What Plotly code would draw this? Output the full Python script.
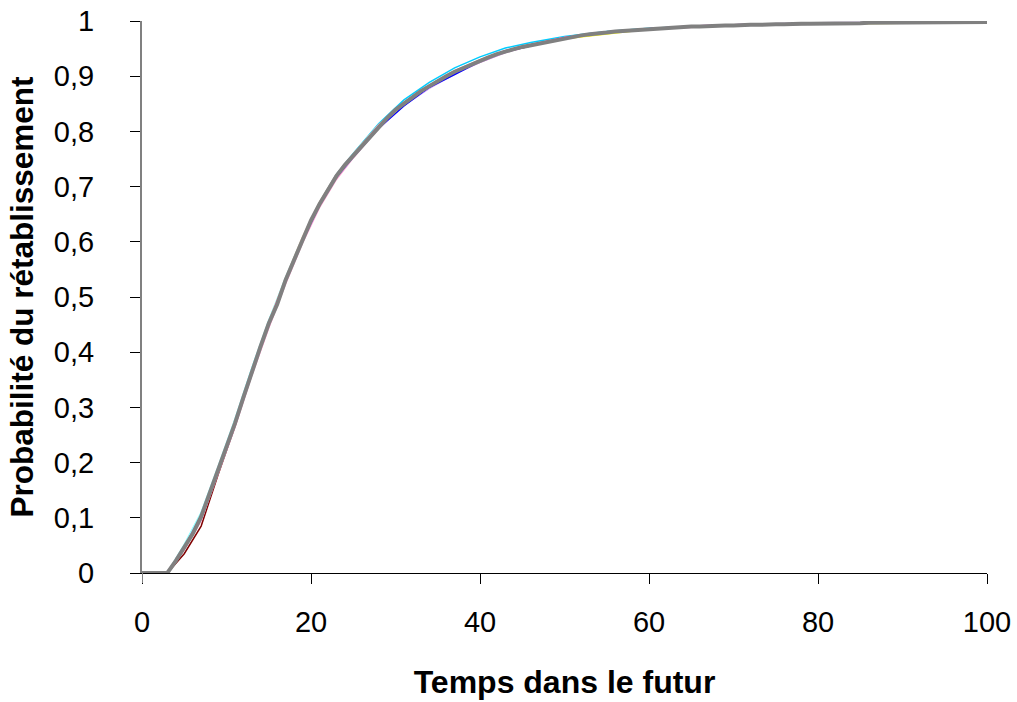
import plotly.graph_objects as go

# ---- data ----
x_main = list(range(0, 101))
gray_series = [
    0, 0, 0, 0, 0.022, 0.046, 0.071, 0.102, 0.143, 0.186,
    0.226, 0.271, 0.318, 0.366, 0.409, 0.452, 0.487, 0.531, 0.568, 0.604,
    0.639, 0.668, 0.694, 0.719, 0.739, 0.756, 0.774, 0.791, 0.809, 0.824,
    0.839, 0.851, 0.861, 0.873, 0.882, 0.892, 0.900, 0.908, 0.915, 0.922,
    0.928, 0.934, 0.940, 0.945, 0.949, 0.953, 0.956, 0.960, 0.963, 0.966,
    0.969, 0.971, 0.974, 0.976, 0.977, 0.979, 0.981, 0.982, 0.983, 0.985,
    0.986, 0.987, 0.988, 0.988, 0.989, 0.990, 0.990, 0.991, 0.991, 0.992,
    0.992, 0.993, 0.993, 0.993, 0.994, 0.994, 0.994, 0.995, 0.995, 0.995,
    0.995, 0.996, 0.996, 0.996, 0.996, 0.996, 0.997, 0.997, 0.997, 0.997,
    0.997, 0.997, 0.997, 0.998, 0.998, 0.998, 0.998, 0.998, 0.998, 0.998,
    0.998,
]

x_col = [0, 3, 5, 7, 9, 11, 13, 15, 17, 19, 21, 23, 25, 28, 31, 34, 37, 40,
         43, 46, 50, 55, 60, 65, 70, 80, 90, 100]

serie_maroon = [0, 0, 0.035, 0.085, 0.178, 0.266, 0.362, 0.450, 0.530, 0.603, 0.669, 0.721, 0.757, 0.808,
                0.851, 0.883, 0.907, 0.929, 0.946, 0.957, 0.970, 0.979, 0.986, 0.990, 0.992, 0.995, 0.997, 0.998]
serie_cyan = [0, 0, 0.050, 0.108, 0.190, 0.276, 0.370, 0.456, 0.534, 0.607, 0.671, 0.722, 0.760, 0.814,
              0.857, 0.889, 0.915, 0.935, 0.951, 0.961, 0.972, 0.981, 0.987, 0.990, 0.993, 0.995, 0.997, 0.998]
serie_lightcyan = [0, 0, 0.052, 0.110, 0.193, 0.279, 0.372, 0.458, 0.536, 0.608, 0.670, 0.720, 0.758, 0.810,
                   0.853, 0.884, 0.909, 0.929, 0.946, 0.957, 0.970, 0.980, 0.986, 0.990, 0.992, 0.995, 0.997, 0.998]
serie_pink = [0, 0, 0.042, 0.095, 0.180, 0.264, 0.358, 0.444, 0.524, 0.598, 0.662, 0.713, 0.752, 0.806,
              0.848, 0.879, 0.905, 0.925, 0.943, 0.955, 0.968, 0.978, 0.985, 0.989, 0.992, 0.995, 0.997, 0.998]
serie_peach = [0, 0, 0.046, 0.103, 0.188, 0.273, 0.368, 0.455, 0.535, 0.609, 0.672, 0.722, 0.759, 0.812,
               0.853, 0.884, 0.910, 0.930, 0.946, 0.957, 0.970, 0.980, 0.986, 0.990, 0.993, 0.996, 0.997, 0.998]
serie_lavender = [0, 0, 0.044, 0.099, 0.183, 0.268, 0.363, 0.449, 0.528, 0.601, 0.665, 0.716, 0.753, 0.805,
                  0.847, 0.878, 0.904, 0.925, 0.943, 0.955, 0.968, 0.979, 0.986, 0.990, 0.993, 0.997, 0.998, 0.999]
serie_blue = [0, 0, 0.045, 0.100, 0.184, 0.269, 0.364, 0.451, 0.530, 0.602, 0.666, 0.717, 0.754, 0.806,
              0.846, 0.880, 0.903, 0.927, 0.944, 0.955, 0.969, 0.979, 0.986, 0.990, 0.992, 0.995, 0.997, 0.998]
serie_yellow = [0, 0, 0.046, 0.101, 0.186, 0.270, 0.365, 0.451, 0.530, 0.603, 0.667, 0.718, 0.755, 0.808,
                0.850, 0.881, 0.907, 0.927, 0.944, 0.955, 0.968, 0.977, 0.985, 0.989, 0.992, 0.995, 0.996, 0.997]
serie_magenta = [0, 0, 0.047, 0.103, 0.187, 0.272, 0.367, 0.453, 0.532, 0.605, 0.669, 0.720, 0.757, 0.810,
                 0.852, 0.883, 0.909, 0.929, 0.946, 0.957, 0.970, 0.980, 0.986, 0.991, 0.993, 0.996, 0.998, 0.998]

x_tick_vals = [0, 20, 40, 60, 80, 100]
y_tick_vals = [0, 0.1, 0.2, 0.3, 0.4, 0.5, 0.6, 0.7, 0.8, 0.9, 1]
y_tick_text = ["0", "0,1", "0,2", "0,3", "0,4", "0,5", "0,6", "0,7", "0,8", "0,9", "1"]

x_title = "Temps dans le futur"
y_title = "Probabilité du rétablissement"

# ---- figure ----
colored = [
    (serie_maroon, "#800000"),
    (serie_cyan, "#00CCFF"),
    (serie_lightcyan, "#99FFFF"),
    (serie_pink, "#FF99CC"),
    (serie_peach, "#FFCC99"),
    (serie_lavender, "#CC99FF"),
    (serie_blue, "#0000FF"),
    (serie_yellow, "#FFFF00"),
    (serie_magenta, "#FF00FF"),
]

fig = go.Figure()
for i, (vals, col) in enumerate(colored):
    fig.add_trace(go.Scatter(x=x_col, y=vals, mode="lines",
                             line=dict(color=col, width=1.5),
                             name=f"Série{i+1}", hoverinfo="skip"))
fig.add_trace(go.Scatter(x=x_main, y=gray_series, mode="lines",
                         line=dict(color="#808080", width=4),
                         name="Série gris"))

font_family = "Liberation Sans, Arial, sans-serif"

fig.update_layout(
    width=1017, height=702,
    margin=dict(l=142, r=30, t=21, b=129, autoexpand=False),
    plot_bgcolor="white", paper_bgcolor="white",
    showlegend=False,
    font=dict(family=font_family, size=29, color="black"),
    xaxis=dict(
        range=[0, 100], tickvals=x_tick_vals,
        ticks="outside", ticklen=10, tickcolor="black", tickwidth=1,
        showline=True, linecolor="black", linewidth=1,
        showgrid=False, zeroline=False, automargin=False,
        ticklabeloverflow="allow",
        ticklabelstandoff=13,
        title=dict(text=f"<b>{x_title}</b>", font=dict(size=32), standoff=33),
    ),
    yaxis=dict(
        range=[0, 1], tickvals=y_tick_vals, ticktext=y_tick_text,
        ticks="outside", ticklen=10, tickcolor="black", tickwidth=1,
        showline=True, linecolor="#808080", linewidth=2,
        showgrid=False, zeroline=False, automargin=False,
        ticklabeloverflow="allow",
        ticklabelstandoff=30,
        title=dict(text=f"<b>{y_title}</b>", font=dict(size=31.5), standoff=11),
    ),
    shapes=[dict(type="line", xref="x", yref="paper", x0=0, x1=0, y0=0, y1=-0.018,
                 line=dict(color="#808080", width=2))],
)

fig.write_html("out.html")
